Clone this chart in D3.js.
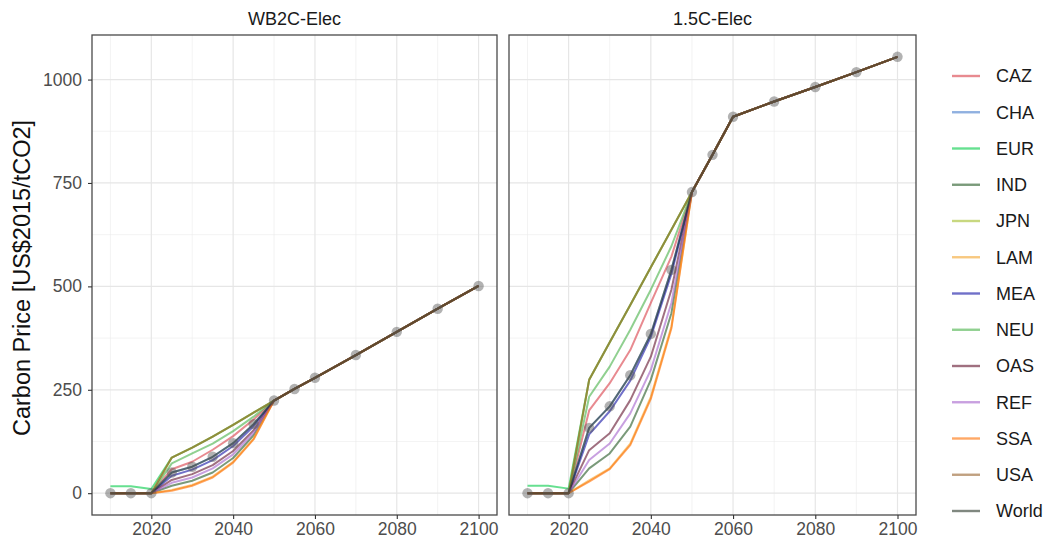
<!DOCTYPE html>
<html>
<head>
<meta charset="utf-8">
<script src="https://cdn.jsdelivr.net/npm/d3@7"></script>
<style>
  html, body { margin: 0; padding: 0; background: #fff; }
  svg { display: block; font-family: "Liberation Sans", Arial, sans-serif; }
</style>
</head>
<body>
<svg id="chart" width="1050" height="546"></svg>
<script>
// Model years
const years = [2010, 2015, 2020, 2025, 2030, 2035, 2040, 2045, 2050, 2055, 2060, 2070, 2080, 2090, 2100];

// Regions and their line colours
const regions = ["CAZ", "CHA", "EUR", "IND", "JPN", "LAM", "MEA", "NEU", "OAS", "REF", "SSA", "USA", "World"];
const regionColors = ["#d93c46", "#467bcb", "#00cb46", "#215721", "#a3be2b", "#f3a32b", "#1111a3",
                      "#46b146", "#61112b", "#a361cb", "#ff6e00", "#96612b", "#2b392b"];

// Facet titles
const scenarios = ["WB2C-Elec", "1.5C-Elec"];

// Carbon price, US$2015/tCO2 — one row per region, in region order
const wb2cPrices = [
  [0, 0, 0, 58, 76, 105, 138, 178, 224, 252, 279, 334, 390, 446, 501],
  [0, 0, 0, 50, 64, 88, 121, 167, 224, 252, 279, 334, 390, 446, 501],
  [17, 17, 10, 86, 110, 137, 165, 195, 224, 252, 279, 334, 390, 446, 501],
  [0, 0, 0, 18, 30, 50, 85, 140, 224, 252, 279, 334, 390, 446, 501],
  [0, 0, 0, 86, 110, 137, 165, 195, 224, 252, 279, 334, 390, 446, 501],
  [0, 0, 0, 8, 20, 40, 76, 132, 224, 252, 279, 334, 390, 446, 501],
  [0, 0, 0, 42, 57, 80, 114, 162, 224, 252, 279, 334, 390, 446, 501],
  [0, 0, 0, 72, 96, 120, 150, 185, 224, 252, 279, 334, 390, 446, 501],
  [0, 0, 0, 32, 46, 68, 102, 152, 224, 252, 279, 334, 390, 446, 501],
  [0, 0, 0, 25, 38, 60, 94, 146, 224, 252, 279, 334, 390, 446, 501],
  [0, 0, 0, 6, 18, 38, 74, 130, 224, 252, 279, 334, 390, 446, 501],
  [0, 0, 0, 86, 110, 137, 165, 195, 224, 252, 279, 334, 390, 446, 501],
  [0, 0, 0, 50, 64, 88, 121, 167, 224, 252, 279, 334, 390, 446, 501]
];

const c15Prices = [
  [0, 0, 0, 200, 266, 346, 460, 572, 728, 818, 910, 947, 982, 1018, 1055],
  [0, 0, 0, 158, 210, 285, 385, 540, 728, 818, 910, 947, 982, 1018, 1055],
  [18, 18, 11, 274, 365, 455, 546, 637, 728, 818, 910, 947, 982, 1018, 1055],
  [0, 0, 0, 60, 96, 161, 274, 435, 728, 818, 910, 947, 982, 1018, 1055],
  [0, 0, 0, 274, 365, 455, 546, 637, 728, 818, 910, 947, 982, 1018, 1055],
  [0, 0, 0, 31, 60, 120, 233, 403, 728, 818, 910, 947, 982, 1018, 1055],
  [0, 0, 0, 142, 198, 272, 378, 530, 728, 818, 910, 947, 982, 1018, 1055],
  [0, 0, 0, 233, 306, 395, 492, 597, 728, 818, 910, 947, 982, 1018, 1055],
  [0, 0, 0, 104, 145, 225, 330, 492, 728, 818, 910, 947, 982, 1018, 1055],
  [0, 0, 0, 80, 120, 193, 298, 460, 728, 818, 910, 947, 982, 1018, 1055],
  [0, 0, 0, 28, 58, 116, 228, 398, 728, 818, 910, 947, 982, 1018, 1055],
  [0, 0, 0, 274, 365, 455, 546, 637, 728, 818, 910, 947, 982, 1018, 1055],
  [0, 0, 0, 158, 210, 285, 385, 540, 728, 818, 910, 947, 982, 1018, 1055]
];

// Axis ticks
const xTicks = [2020, 2040, 2060, 2080, 2100];
const xMinor = [2010, 2030, 2050, 2070, 2090];
const yTicks = [0, 250, 500, 750, 1000];
const yMinor = [125, 375, 625, 875];

const yTitle = "Carbon Price [US$2015/tCO2]";

// ---- layout ----
const svg = d3.select("#chart");
const panelTop = 35, panelBottom = 515;
const panels = [
  { title: scenarios[0], prices: wb2cPrices, x0: 92, x1: 497 },
  { title: scenarios[1], prices: c15Prices, x0: 509, x1: 916 }
];

// shared y scale with 5% expansion on both ends
const yMax = 1055, yPad = yMax * 0.05;
const y = d3.scaleLinear().domain([-yPad, yMax + yPad]).range([panelBottom, panelTop]);
const xPad = (2100 - 2010) * 0.05;

const lineAlpha = 0.6;
const fontSize = 17.5;

panels.forEach((p, pi) => {
  const x = d3.scaleLinear().domain([2010 - xPad, 2100 + xPad]).range([p.x0, p.x1]);
  const g = svg.append("g");

  // grid
  g.selectAll(".ymin").data(yMinor).join("line")
    .attr("x1", p.x0).attr("x2", p.x1)
    .attr("y1", d => y(d)).attr("y2", d => y(d))
    .attr("stroke", "#ebebeb").attr("stroke-width", 0.6);
  g.selectAll(".xmin").data(xMinor).join("line")
    .attr("y1", panelTop).attr("y2", panelBottom)
    .attr("x1", d => x(d)).attr("x2", d => x(d))
    .attr("stroke", "#ebebeb").attr("stroke-width", 0.6);
  g.selectAll(".ymaj").data(yTicks).join("line")
    .attr("x1", p.x0).attr("x2", p.x1)
    .attr("y1", d => y(d)).attr("y2", d => y(d))
    .attr("stroke", "#e6e6e6").attr("stroke-width", 1.2);
  g.selectAll(".xmaj").data(xTicks).join("line")
    .attr("y1", panelTop).attr("y2", panelBottom)
    .attr("x1", d => x(d)).attr("x2", d => x(d))
    .attr("stroke", "#e6e6e6").attr("stroke-width", 1.2);

  // region lines
  const line = d3.line().x((d, i) => x(years[i])).y(d => y(d));
  p.prices.forEach((row, ri) => {
    g.append("path")
      .datum(row)
      .attr("d", line)
      .attr("fill", "none")
      .attr("stroke", regionColors[ri])
      .attr("stroke-opacity", lineAlpha)
      .attr("stroke-width", 2)
      .attr("stroke-linejoin", "round");
  });

  // World points
  const world = p.prices[regions.indexOf("World")];
  g.selectAll(".pt").data(world).join("circle")
    .attr("cx", (d, i) => x(years[i]))
    .attr("cy", d => y(d))
    .attr("r", 5.2)
    .attr("fill", "#555")
    .attr("fill-opacity", 0.45);

  // panel border
  g.append("rect")
    .attr("x", p.x0).attr("y", panelTop)
    .attr("width", p.x1 - p.x0).attr("height", panelBottom - panelTop)
    .attr("fill", "none").attr("stroke", "#4a4a4a").attr("stroke-width", 1.3);

  // strip title
  g.append("text")
    .attr("x", (p.x0 + p.x1) / 2).attr("y", 24.5)
    .attr("text-anchor", "middle")
    .attr("font-size", 18).attr("fill", "#1a1a1a")
    .text(p.title);

  // x axis
  const xAxis = d3.axisBottom(x).tickValues(xTicks).tickFormat(d3.format("d")).tickSize(4).tickPadding(4);
  const xa = g.append("g").attr("transform", `translate(0,${panelBottom})`).call(xAxis);
  xa.select(".domain").remove();
  xa.selectAll(".tick line").attr("stroke", "#333").attr("stroke-width", 1.1);
  xa.selectAll(".tick text").attr("fill", "#4d4d4d").attr("font-size", fontSize)
    .attr("font-family", "Liberation Sans, Arial, sans-serif");

  // y axis on first panel only
  if (pi === 0) {
    const yAxis = d3.axisLeft(y).tickValues(yTicks).tickFormat(d3.format("d")).tickSize(4).tickPadding(6);
    const ya = g.append("g").attr("transform", `translate(${p.x0},0)`).call(yAxis);
    ya.select(".domain").remove();
    ya.selectAll(".tick line").attr("stroke", "#333").attr("stroke-width", 1.1);
    ya.selectAll(".tick text").attr("fill", "#4d4d4d").attr("font-size", fontSize)
      .attr("font-family", "Liberation Sans, Arial, sans-serif");
  }
});

// y axis title
svg.append("text")
  .attr("transform", `translate(30,${(panelTop + panelBottom) / 2 + 3}) rotate(-90)`)
  .attr("text-anchor", "middle")
  .attr("font-size", 23.5).attr("fill", "#111")
  .text(yTitle);

// legend
const legendTop = 76, legendStep = 36.25;
const lg = svg.append("g");
regions.forEach((r, i) => {
  const cy = legendTop + i * legendStep;
  lg.append("line")
    .attr("x1", 952).attr("x2", 980)
    .attr("y1", cy).attr("y2", cy)
    .attr("stroke", regionColors[i]).attr("stroke-opacity", lineAlpha)
    .attr("stroke-width", 2.4);
  lg.append("text")
    .attr("x", 996).attr("y", cy)
    .attr("dy", "0.35em")
    .attr("font-size", 18).attr("fill", "#1a1a1a")
    .text(r);
});
</script>
</body>
</html>
